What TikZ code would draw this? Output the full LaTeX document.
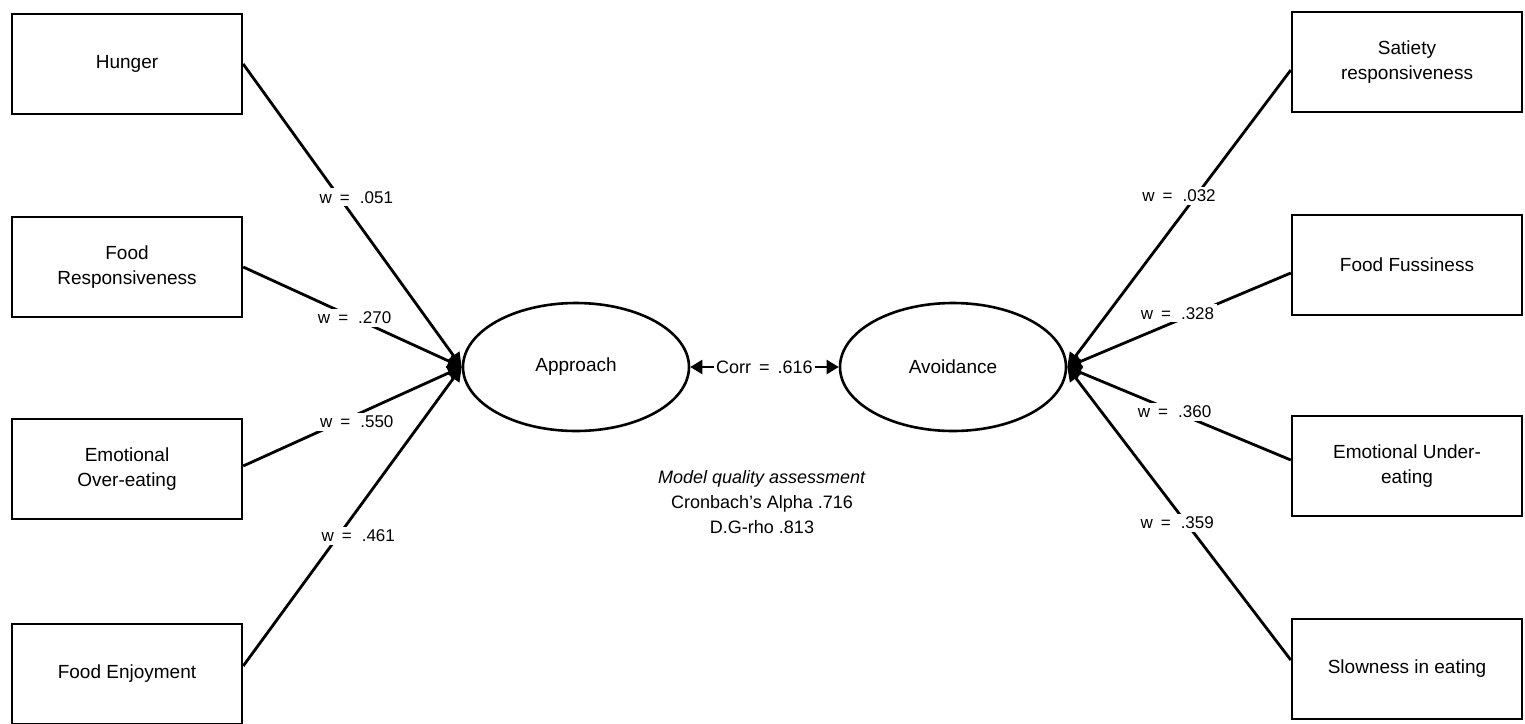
\documentclass[tikz,border=0pt]{standalone}
\usepackage{fontspec}
\setmainfont{Liberation Sans}
\usetikzlibrary{arrows.meta,calc,shapes.geometric}
\begin{document}
\begin{tikzpicture}[x=0.5pt,y=-0.5pt,
  varbox/.style={draw,line width=1.2pt,minimum width=115pt,minimum height=50pt,align=center,font=\fontsize{9.5}{12.5}\selectfont,inner sep=2pt},
  latent/.style={draw,ellipse,line width=1.3pt,minimum width=113pt,minimum height=64pt,font=\fontsize{9.5}{12}\selectfont},
  weightarrow/.style={line width=1.4pt,-{Triangle[length=7pt,width=7pt]}},
  wlab/.style={fill=white,font=\fontsize{8.5}{10}\selectfont,inner sep=1.5pt}
]
\useasboundingbox (0,0) rectangle (1525,723);
% left indicators
\node[varbox] (hun) at (127,64) {Hunger};
\node[varbox] (fr) at (127,267) {Food\\Responsiveness};
\node[varbox] (eo) at (127,469) {Emotional\\Over-eating};
\node[varbox] (fe) at (127,674) {Food Enjoyment};
% right indicators
\node[varbox] (sr) at (1407,62) {Satiety\\responsiveness};
\node[varbox] (ff) at (1407,265) {Food Fussiness};
\node[varbox] (eu) at (1407,466) {Emotional Under-\\eating};
\node[varbox] (se) at (1407,669) {Slowness in eating};
% latent constructs
\node[latent] (app) at (576,367) {Approach};
\node[latent] (avo) at (953,367) {Avoidance};
% left paths
\draw[weightarrow] (hun.east) -- node[wlab,pos=0.44,xshift=8.5pt] {w\hspace{4pt}=\hspace{5pt}.051} (app.west);
\draw[weightarrow] (fr.east) -- node[wlab,pos=0.51] {w\hspace{4pt}=\hspace{5pt}.270} (app.west);
\draw[weightarrow] ($(eo.east)+(0,-3)$) -- node[wlab,pos=0.52,yshift=-3.5pt] {w\hspace{4pt}=\hspace{5pt}.550} (app.west);
\draw[weightarrow] ($(fe.east)+(0,-8)$) -- node[wlab,pos=0.435,xshift=10pt] {w\hspace{4pt}=\hspace{5pt}.461} (app.west);
% right paths
\draw[weightarrow] ($(sr.west)+(0,8)$) -- node[wlab,pos=0.424,xshift=-8.5pt] {w\hspace{4pt}=\hspace{5pt}.032} (avo.east);
\draw[weightarrow] ($(ff.west)+(0,8)$) -- node[wlab,pos=0.507,yshift=3.75pt] {w\hspace{4pt}=\hspace{5pt}.328} (avo.east);
\draw[weightarrow] ($(eu.west)+(0,-6)$) -- node[wlab,pos=0.52] {w\hspace{4pt}=\hspace{5pt}.360} (avo.east);
\draw[weightarrow] ($(se.west)+(0,-9)$) -- node[wlab,pos=0.468,xshift=-4.5pt] {w\hspace{4pt}=\hspace{5pt}.359} (avo.east);
% correlation
\draw[line width=1.2pt,{Triangle[length=6pt,width=7pt]}-{Triangle[length=6pt,width=7pt]}] (app.east) -- node[wlab,inner sep=1pt,font=\fontsize{9}{10}\selectfont] {Corr\hspace{4pt}=\hspace{4pt}.616} (avo.west);
% model quality
\node[align=center,font=\fontsize{9}{12.5}\selectfont] (mq) at (762,502) {\textit{Model quality assessment}\\Cronbach's Alpha .716\\D.G-rho .813};
\end{tikzpicture}
\end{document}
